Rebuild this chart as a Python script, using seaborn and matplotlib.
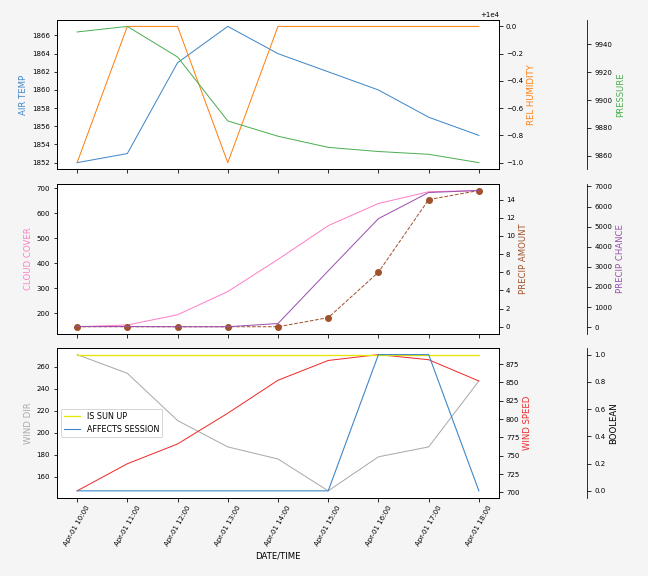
import matplotlib
matplotlib.use("Agg")
import matplotlib.pyplot as plt
import matplotlib.dates as mdates
import pandas as pd
import seaborn as sns

plt.rcParams['font.size'] = 7
plt.rcParams['axes.labelsize'] = 8.5
plt.rcParams['legend.fontsize'] = 8
plt.rcParams['font.family'] = ['DejaVu Sans']

# hourly forecast values
times = pd.date_range('2023-04-01 10:00', periods=9, freq='h')
air_temp = [1852, 1853, 1863, 1867, 1864, 1862, 1860, 1857, 1855]
rel_humidity = [9999, 10000, 10000, 9999, 10000, 10000, 10000, 10000, 10000]
pressure = [9949, 9953, 9931, 9885, 9874, 9866, 9863, 9861, 9855]
cloud_cover = [145, 152, 193, 286, 415, 550, 639, 686, 691]
precip_amount = [0, 0, 0, 0, 0, 1, 6, 14, 15]
precip_chance = [30, 30, 20, 20, 180, 2800, 5400, 6700, 6800]
wind_dir = [271, 254, 211, 187, 176, 147, 178, 187, 247]
wind_speed = [702, 739, 766, 808, 853, 880, 888, 881, 852]
is_sun_up = [1, 1, 1, 1, 1, 1, 1, 1, 1]
affects_session = [0, 0, 0, 0, 0, 0, 1, 1, 0]

fig, axs = plt.subplots(3, 1, sharex=True, figsize=(9, 8), dpi=72)
fig.patch.set_facecolor('#f5f5f5')
fig.subplots_adjust(left=0.088, right=0.770, top=0.966, bottom=0.136, hspace=0.095)
ax1, ax2, ax3 = axs


def third_axis(ax):
    extra = ax.twinx()
    extra.spines['right'].set_position(('axes', 1.2))
    return extra


# top panel: temperature, humidity, pressure
sns.lineplot(x=times, y=air_temp, ax=ax1, color='#3f86c8', lw=1)
ax1.set_ylabel('AIR TEMP', color='#3f86c8')
t1 = ax1.twinx()
sns.lineplot(x=times, y=rel_humidity, ax=t1, color='#ff7f0e', lw=1)
t1.set_ylabel('REL HUMIDITY', color='#ff7f0e')
p1 = third_axis(ax1)
sns.lineplot(x=times, y=pressure, ax=p1, color='#4caf50', lw=1)
p1.set_ylabel('PRESSURE', color='#4caf50')

# middle panel: clouds and precipitation
sns.lineplot(x=times, y=cloud_cover, ax=ax2, color='#ff7fc6', lw=1)
ax2.set_ylabel('CLOUD COVER', color='#ff7fc6')
t2 = ax2.twinx()
sns.lineplot(x=times, y=precip_amount, ax=t2, color='#a0522d', lw=1,
             linestyle='--', marker='o', markersize=7, markeredgewidth=0)
t2.set_ylabel('PRECIP AMOUNT', color='#a0522d')
p2 = third_axis(ax2)
sns.lineplot(x=times, y=precip_chance, ax=p2, color='#9b4fb0', lw=1)
p2.set_ylabel('PRECIP CHANCE', color='#9b4fb0')

# bottom panel: wind and booleans
sns.lineplot(x=times, y=wind_dir, ax=ax3, color='darkgray', lw=1)
ax3.set_ylabel('WIND DIR', color='darkgray')
t3 = ax3.twinx()
sns.lineplot(x=times, y=wind_speed, ax=t3, color='#ee2a2a', lw=1)
t3.set_ylabel('WIND SPEED', color='#ee2a2a')
p3 = third_axis(ax3)
sns.lineplot(x=times, y=is_sun_up, ax=p3, color='#e6e600', lw=1.3, label='IS SUN UP')
sns.lineplot(x=times, y=affects_session, ax=p3, color='#3f86c8', lw=1.1, label='AFFECTS SESSION')
p3.set_ylabel('BOOLEAN', color='black')
p3.legend(loc='center left')

ax3.xaxis.set_major_formatter(mdates.DateFormatter('%b-%d %H:%M'))
ax3.set_xlabel('DATE/TIME')
for lbl in ax3.get_xticklabels():
    lbl.set_rotation(60)

plt.savefig('out.png', facecolor=fig.get_facecolor())
